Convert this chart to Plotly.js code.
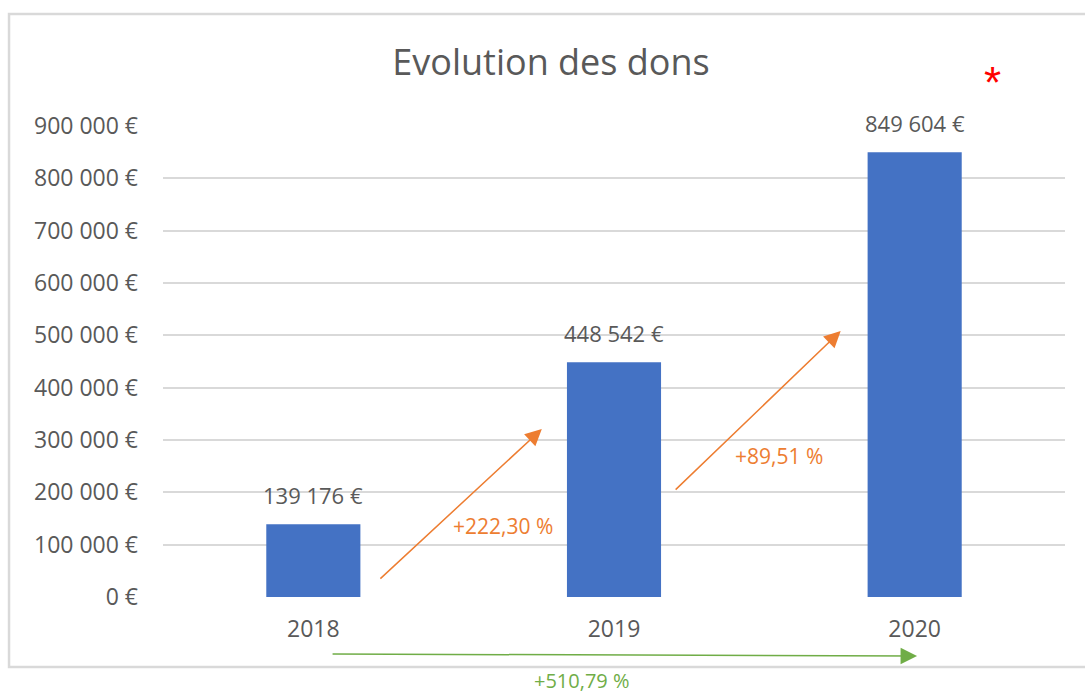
<!DOCTYPE html>
<html>
<head>
<meta charset="utf-8">
<script src="https://cdn.plot.ly/plotly-3.0.1.min.js"></script>
<style>html,body{margin:0;padding:0;background:#fff;}#chart{width:1085px;height:695px;}</style>
</head>
<body>
<div id="chart"></div>
<script>
// ---- data ----
const years = ['2018', '2019', '2020'];
const dons = [139176, 448542, 849604];
const growthLabels = ['+222,30 %', '+89,51 %'];
const totalGrowthLabel = '+510,79 %';
const yTickVals = [0, 100000, 200000, 300000, 400000, 500000, 600000, 700000, 800000, 900000];

const FONT = 'Open Sans, sans-serif';
const GRAY = '#595959';
const ORANGE = '#ED7D31';
const GREEN = '#70AD47';

function fmtEuro(v) {
  return String(Math.round(v)).replace(/\B(?=(\d{3})+(?!\d))/g, ' ') + ' €';
}
const xIdx = years.map((_, i) => i);

const trace = {
  type: 'bar',
  x: xIdx,
  y: dons,
  marker: {color: '#4472C4'},
  width: 0.313,
  hoverinfo: 'none'
};

const annotations = [];
// value labels
xIdx.forEach((xi, i) => {
  annotations.push({
    x: xi, y: dons[i], xref: 'x', yref: 'y',
    text: fmtEuro(dons[i]), showarrow: false,
    yanchor: 'bottom', yshift: 12,
    font: {family: FONT, size: 22, color: GRAY}
  });
});
// orange growth arrows (year i -> i+1)
const arrowGeom = [
  {x0: 0.218, y0: 32500, x1: 0.76, y1: 321000, tx: 0.631, ty: 135700},
  {x0: 1.20, y0: 202500, x1: 1.754, y1: 508300, tx: 1.549, ty: 269400}
];
arrowGeom.forEach((g, i) => {
  annotations.push({
    x: g.x1, y: g.y1, ax: g.x0, ay: g.y0, xref: 'x', yref: 'y', axref: 'x', ayref: 'y',
    text: '', showarrow: true, arrowhead: 2, arrowsize: 2.2, arrowwidth: 1.5, arrowcolor: ORANGE,
    standoff: 0, startstandoff: 0
  });
  annotations.push({
    x: g.tx, y: g.ty, xref: 'x', yref: 'y', text: growthLabels[i], showarrow: false,
    font: {family: FONT, size: 21, color: ORANGE}
  });
});
// green total arrow (below the axis, in paper coordinates)
annotations.push({
  x: 0.836, y: -0.1253, xref: 'paper', yref: 'paper', ax: -586, ay: -2,
  text: '', showarrow: true, arrowhead: 2, arrowsize: 2.2, arrowwidth: 1.5, arrowcolor: GREEN,
  standoff: 0, startstandoff: 0
});
annotations.push({
  x: 0.4647, y: -0.178, xref: 'paper', yref: 'paper', text: totalGrowthLabel, showarrow: false,
  xanchor: 'center', yanchor: 'middle',
  font: {family: FONT, size: 20, color: GREEN}
});
// red asterisk
annotations.push({
  x: 0.931, y: 1.10, xref: 'paper', yref: 'paper', text: '*', showarrow: false,
  font: {family: 'Liberation Sans, Arial, sans-serif', size: 44, color: '#FF0000'},
  yanchor: 'middle', yshift: -4
});

const layout = {
  width: 1085, height: 695,
  margin: {l: 163, r: 20, t: 126, b: 98},
  paper_bgcolor: '#ffffff', plot_bgcolor: '#ffffff',
  showlegend: false,
  title: {
    text: 'Evolution des dons',
    font: {family: FONT, size: 36, color: GRAY},
    x: 551 / 1085, xref: 'container', xanchor: 'center',
    y: 1 - 62 / 695, yref: 'container', yanchor: 'middle'
  },
  xaxis: {
    type: 'linear',
    range: [-0.5, 2.5],
    tickvals: xIdx, ticktext: years,
    showgrid: false, zeroline: false, showline: false, ticks: '',
    tickfont: {family: FONT, size: 23, color: GRAY},
    ticklabelstandoff: 16,
    fixedrange: true
  },
  yaxis: {
    range: [0, 900000],
    tickvals: yTickVals,
    ticktext: yTickVals.map(fmtEuro),
    showgrid: true, gridcolor: '#D9D9D9', gridwidth: 2,
    zeroline: false, showline: false, ticks: '',
    tickfont: {family: FONT, size: 23, color: GRAY},
    ticklabelstandoff: 24,
    fixedrange: true
  },
  shapes: [{
    type: 'rect', xref: 'paper', yref: 'paper',
    x0: -0.1707, x1: 1.03, y0: -0.1486, y1: 1.2378,
    line: {color: '#D9D9D9', width: 2.5}, fillcolor: 'rgba(0,0,0,0)', layer: 'below'
  }],
  annotations: annotations
};

Plotly.newPlot('chart', [trace], layout, {displayModeBar: false, staticPlot: true});
</script>
</body>
</html>
